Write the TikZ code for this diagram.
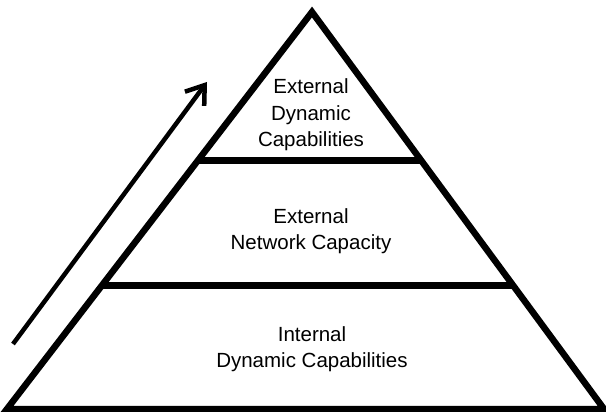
\documentclass[tikz,border=0pt]{standalone}
\usepackage{fontspec}
\setmainfont{Liberation Sans}
\usetikzlibrary{calc,arrows.meta}
\begin{document}
\begin{tikzpicture}[x=1pt,y=-1pt,
  edge/.style={line width=6.5pt,line join=miter},
  tier/.style={line width=7pt},
  label/.style={align=center,font=\fontsize{20.5}{26.5}\selectfont,inner sep=0pt},
  rise/.style={line width=4.5pt,-{Straight Barb[length=17pt,width=24pt,line width=4.5pt]}}]
  \useasboundingbox (0,0) rectangle (606,412);
  % pyramid outline
  \coordinate (apex) at (312,12);
  \coordinate (bl) at (7,409);
  \coordinate (br) at (604,409);
  \draw[edge] (bl) -- (apex) -- (br) -- cycle;
  % tier dividers
  \coordinate (t1l) at ($(apex)!0.3728!(bl)$);
  \coordinate (t1r) at ($(apex)!0.3728!(br)$);
  \coordinate (t2l) at ($(apex)!0.6877!(bl)$);
  \coordinate (t2r) at ($(apex)!0.6877!(br)$);
  \draw[tier] (t1l) -- (t1r);
  \draw[tier] (t2l) -- (t2r);
  % tier labels
  \node[label] (top) at (311,115) {External\\Dynamic\\Capabilities};
  \node[label] (mid) at (311,231) {External\\Network Capacity};
  \node[label] (base) at (312,349) {Internal\\Dynamic Capabilities};
  % upward arrow
  \coordinate (tail) at (13,344);
  \coordinate (tip) at (207,82);
  \draw[rise] (tail) -- (tip);
\end{tikzpicture}
\end{document}
